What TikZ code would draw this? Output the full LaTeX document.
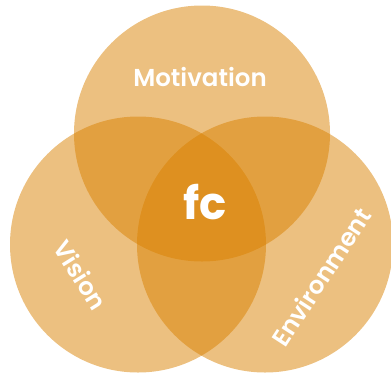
\documentclass[tikz,border=0pt]{standalone}
\usepackage{fontspec}
\setmainfont{Poppins}[BoldFont={Poppins SemiBold}]
\newfontfamily\fcfont{Poppins Bold}
\definecolor{vorange}{RGB}{217,129,1}
\begin{document}
\begin{tikzpicture}[x=1pt,y=-1pt,
  venn/.style={circle,fill=vorange,fill opacity=0.5,minimum size=256pt,inner sep=0pt},
  lbl/.style={text=white,font=\bfseries\fontsize{24.5}{26}\selectfont,inner sep=0pt}]
\useasboundingbox (0,0) rectangle (391,376);
\node[venn] (m) at (202,133.5) {};
\node[venn] (v) at (138,244.5) {};
\node[venn] (e) at (265,244.5) {};
\node[lbl] (tm) at (200,77) {Motivation};
\node[lbl,rotate=-58] (tv) at (81,275) {Vision};
\node[lbl,rotate=57] (te) at (321,277) {Environment};
\node[lbl,font=\fcfont\fontsize{45}{48}\selectfont] (tc) at (205,202.5) {fc};
\end{tikzpicture}
\end{document}
